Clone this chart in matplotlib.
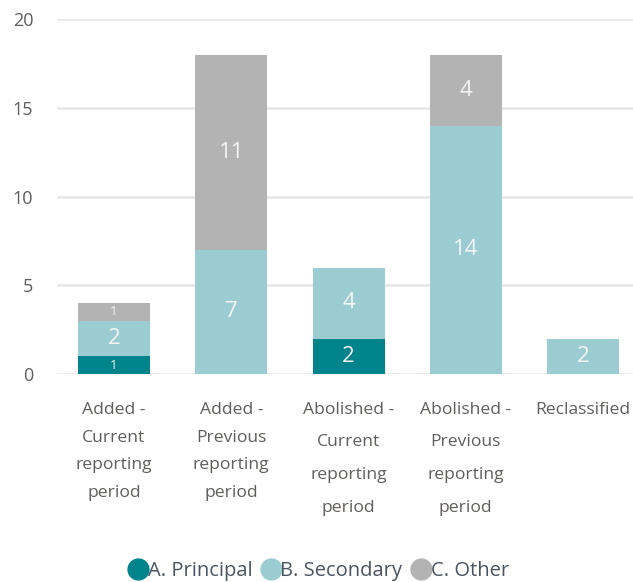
import matplotlib
matplotlib.use("Agg")
import matplotlib.pyplot as plt
from matplotlib.lines import Line2D
import numpy as np

categories = ["Added -\nCurrent\nreporting\nperiod",
              "Added -\nPrevious\nreporting\nperiod",
              "Abolished -\nCurrent\nreporting\nperiod",
              "Abolished -\nPrevious\nreporting\nperiod",
              "Reclassified"]
series_names = ["A. Principal", "B. Secondary", "C. Other"]
principal = [1, 0, 2, 0, 0]
secondary = [2, 7, 4, 14, 2]
other = [1, 11, 0, 4, 0]
colors = ["#00838A", "#9BCCD1", "#B3B3B3"]

plt.rcParams['font.family'] = ['Open Sans', 'DejaVu Sans']

fig = plt.figure(figsize=(6.33, 5.82), dpi=100)
ax = fig.add_axes([57/633, 1-374/582, (633-57)/633, (374-19)/582])

x = np.arange(len(categories))
width = 0.614
bottom = np.zeros(len(categories))
for vals, c in zip([principal, secondary, other], colors):
    vals = np.array(vals, dtype=float)
    bars = ax.bar(x, vals, width, bottom=bottom, color=c, zorder=3)
    for xi, v, b in zip(x, vals, bottom):
        if v > 0:
            fs = 9.5 if v < 1.5 else 16
            ax.text(xi, b + v/2, f"{int(v)}", ha='center', va='center',
                    color='#F4F4F4', fontsize=fs, zorder=4)
    bottom += vals

ax.set_ylim(0, 20)
ax.set_xlim(-0.486, 4.426)
ax.set_yticks([0, 5, 10, 15, 20])
ax.yaxis.grid(True, color='#E6E6E6', linewidth=1.8, zorder=0)
ax.set_axisbelow(True)
for s in ax.spines.values():
    s.set_visible(False)
ax.tick_params(axis='both', length=0, labelsize=13, colors='#605E5C')
ax.tick_params(axis='y', pad=17)
ax.tick_params(axis='x', pad=20)
ax.set_xticks(x)
ax.set_xticklabels(categories, fontsize=12.6, va='top')
for i, lab in enumerate(ax.get_xticklabels()):
    lab.set_linespacing(2.39 if i in (2, 3) else 1.98)
    lab.set_color('#605E5C')

handles = [Line2D([0], [0], marker='o', linestyle='', markersize=15,
                  markerfacecolor=c, markeredgecolor=c) for c in colors]
fig.legend(handles, series_names, loc='center', bbox_to_anchor=(318/633, 1-571/582),
           ncol=3, frameon=False, fontsize=14.5, handletextpad=-0.1,
           columnspacing=0.4, labelcolor='#4A5560', handlelength=1.1)

fig.savefig("out.png", dpi=100)
